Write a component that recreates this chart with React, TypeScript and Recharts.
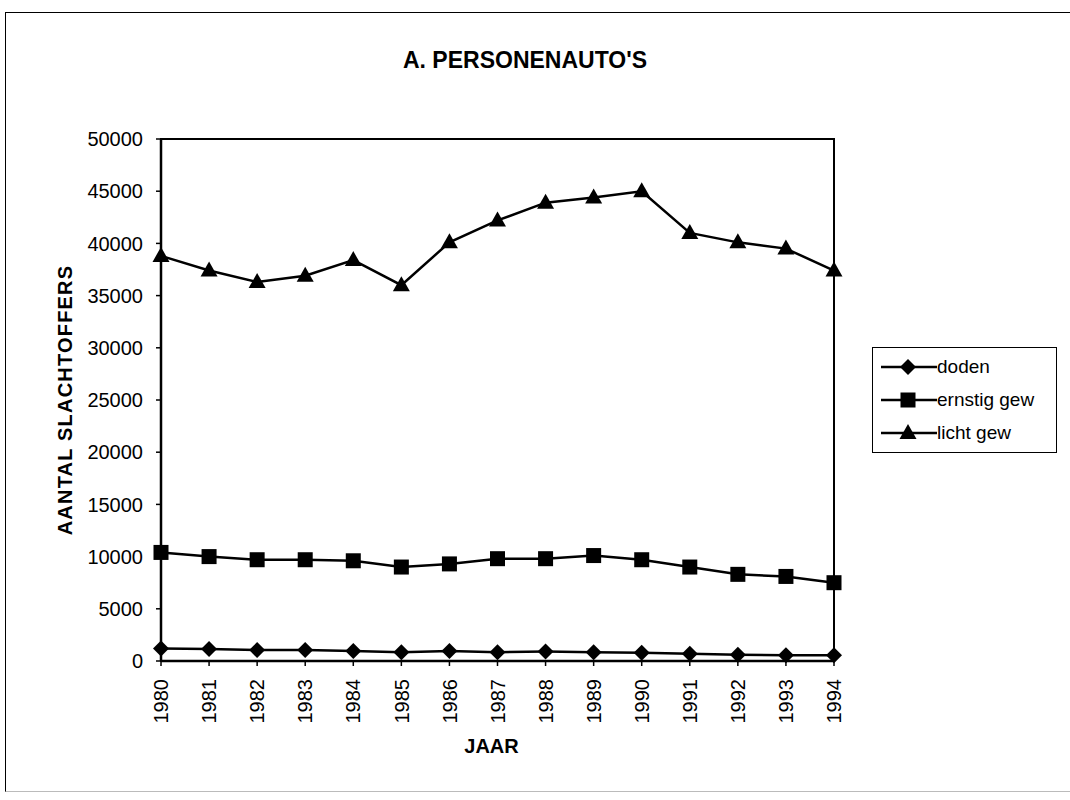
import React from 'react';
import { LineChart, Line, XAxis, YAxis, ReferenceArea } from 'recharts';

const years = ['1980','1981','1982','1983','1984','1985','1986','1987','1988','1989','1990','1991','1992','1993','1994'];
const doden = [1200, 1150, 1050, 1050, 950, 850, 950, 850, 900, 850, 800, 700, 600, 550, 550];
const ernstig = [10400, 10000, 9700, 9700, 9600, 9000, 9300, 9800, 9800, 10100, 9700, 9000, 8300, 8100, 7500];
const licht = [38800, 37400, 36300, 36900, 38400, 36000, 40100, 42200, 43900, 44400, 45000, 41000, 40100, 39500, 37400];
const yTicks = [0, 5000, 10000, 15000, 20000, 25000, 30000, 35000, 40000, 45000, 50000];
const seriesNames = ['doden', 'ernstig gew', 'licht gew'];

const data = years.map((y, i) => ({ year: y, doden: doden[i], ernstig: ernstig[i], licht: licht[i] }));

const FONT = '"Liberation Sans", Arial, Helvetica, sans-serif';

const Diamond = ({ cx, cy }: any) => (
  <path d={`M${cx},${cy - 8} L${cx + 8},${cy} L${cx},${cy + 8} L${cx - 8},${cy} Z`} fill="#000" />
);
const Square = ({ cx, cy }: any) => (
  <rect x={cx - 7.5} y={cy - 7.5} width={15} height={15} fill="#000" />
);
const Triangle = ({ cx, cy }: any) => (
  <path d={`M${cx},${cy - 9} L${cx + 8.5},${cy + 6} L${cx - 8.5},${cy + 6} Z`} fill="#000" />
);

const XTick = ({ x, y, payload }: any) => (
  <text
    x={x}
    y={y}
    transform={`rotate(-90, ${x}, ${y})`}
    textAnchor="end"
    dy="0.36em"
    dx={-11}
    fontSize={20}
    fontFamily={FONT}
    fill="#000"
  >
    {payload.value}
  </text>
);

const markers = [Diamond, Square, Triangle];

const LegendBox = () => (
  <div
    style={{
      position: 'absolute',
      left: 872,
      top: 347,
      border: '1px solid #000',
      width: 185,
      height: 106,
      boxSizing: 'border-box',
      background: '#fff',
      fontFamily: FONT,
      fontSize: 19,
      paddingTop: 2,
      whiteSpace: 'nowrap',
      overflow: 'hidden',
    }}
  >
    {seriesNames.map((n, i) => {
      const M = markers[i];
      return (
        <div key={n} style={{ display: 'flex', alignItems: 'center', height: 33 }}>
          <svg width={64} height={20} style={{ flex: 'none' }}>
            <line x1={8} y1={10} x2={64} y2={10} stroke="#000" strokeWidth={2.5} />
            <M cx={35} cy={10} />
          </svg>
          <span>{n}</span>
        </div>
      );
    })}
  </div>
);

export default function App() {
  return (
    <div style={{ position: 'absolute', left: 0, top: 0, width: 1070, height: 800, background: '#fff', overflow: 'hidden' }}>
      <div
        style={{
          position: 'absolute',
          left: 5,
          top: 12,
          width: 1080,
          height: 780,
          borderLeft: '1.5px solid #000',
          borderTop: '1.5px solid #000',
          borderBottom: '1px solid #bbb',
          boxSizing: 'border-box',
        }}
      />
      <div
        style={{
          position: 'absolute',
          left: 525,
          top: 47,
          transform: 'translateX(-50%)',
          whiteSpace: 'nowrap',
          fontFamily: FONT,
          fontWeight: 'bold',
          fontSize: 23,
        }}
      >
        A. PERSONENAUTO'S
      </div>
      <div style={{ position: 'absolute', left: 0, top: 0 }}>
        <LineChart width={1070} height={800} data={data} margin={{ top: 139, right: 236, bottom: 79, left: 100 }}>
          <ReferenceArea x1="1980" x2="1994" y1={0} y2={50000} fill="none" stroke="#000" strokeWidth={2} ifOverflow="visible" />
          <XAxis
            dataKey="year"
            height={60}
            tick={<XTick />}
            tickLine={{ stroke: '#000', strokeWidth: 1.5 }}
            tickSize={5}
            axisLine={{ stroke: '#000', strokeWidth: 2.5 }}
            interval={0}
            label={{ value: 'JAAR', position: 'insideBottom', offset: -32, dx: -6, fontFamily: FONT, fontWeight: 'bold', fontSize: 20, fill: '#000' }}
          />
          <YAxis
            width={61}
            domain={[0, 50000]}
            ticks={yTicks}
            interval={0}
            tick={{ fontSize: 20, fontFamily: FONT, fill: '#000' }}
            tickLine={{ stroke: '#000', strokeWidth: 1.5 }}
            tickSize={5}
            tickMargin={13}
            axisLine={{ stroke: '#000', strokeWidth: 2.5 }}
            label={{ value: 'AANTAL SLACHTOFFERS', angle: -90, position: 'insideLeft', offset: -35, fontFamily: FONT, fontWeight: 'bold', fontSize: 20, letterSpacing: 1.2, fill: '#000', style: { textAnchor: 'middle' } }}
          />
          <Line dataKey="doden" name="doden" stroke="#000" strokeWidth={2.5} dot={<Diamond />} activeDot={false} isAnimationActive={false} />
          <Line dataKey="ernstig" name="ernstig gew" stroke="#000" strokeWidth={2.5} dot={<Square />} activeDot={false} isAnimationActive={false} />
          <Line dataKey="licht" name="licht gew" stroke="#000" strokeWidth={2.5} dot={<Triangle />} activeDot={false} isAnimationActive={false} />
        </LineChart>
      </div>
      <LegendBox />
    </div>
  );
}
